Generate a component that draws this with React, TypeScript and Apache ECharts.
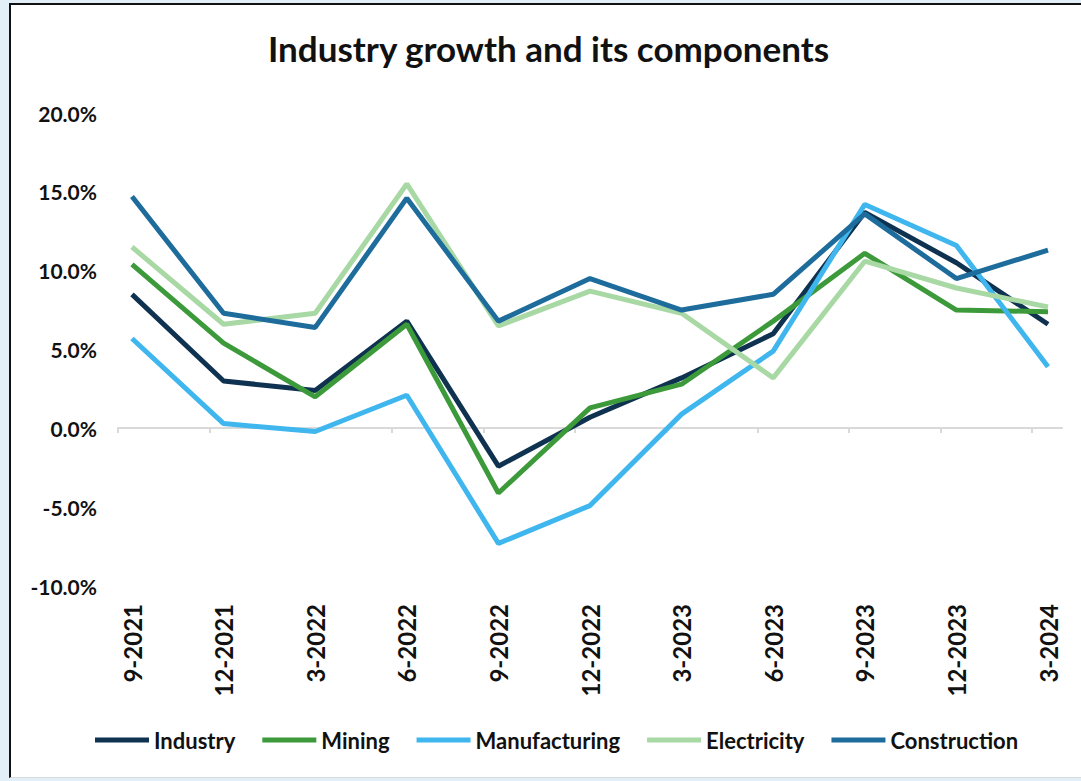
import React, { useEffect, useRef } from "react";
import * as echarts from "echarts";

const categories = ["9-2021", "12-2021", "3-2022", "6-2022", "9-2022", "12-2022", "3-2023", "6-2023", "9-2023", "12-2023", "3-2024"];
const industry = [8.5, 3.0, 2.4, 6.8, -2.4, 0.7, 3.2, 6.0, 13.7, 10.5, 6.6];
const mining = [10.4, 5.4, 2.0, 6.6, -4.1, 1.3, 2.8, 6.8, 11.1, 7.5, 7.4];
const manufacturing = [5.7, 0.3, -0.2, 2.1, -7.3, -4.9, 0.9, 4.9, 14.2, 11.6, 3.9];
const electricity = [11.5, 6.6, 7.3, 15.5, 6.5, 8.7, 7.3, 3.2, 10.6, 8.9, 7.7];
const construction = [14.7, 7.3, 6.4, 14.6, 6.8, 9.5, 7.5, 8.5, 13.6, 9.5, 11.3];
const seriesNames = ["Industry", "Mining", "Manufacturing", "Electricity", "Construction"];
const seriesValues = [industry, mining, manufacturing, electricity, construction];
const seriesColors = ["#0f3250", "#3c9a3a", "#3fb6ee", "#a8d8a4", "#1d6c9c"];
const zeroAxisTicks = [0, 1, 2, 3, 4, 5, 6, 7, 8, 9, 10];

const FONT = "Lato, 'Noto Sans', sans-serif";

export default function App() {
  const ref = useRef<HTMLDivElement>(null);
  useEffect(() => {
    if (!ref.current) return;
    const chart = echarts.init(ref.current, null, { renderer: "svg" });
    chart.setOption({
      animation: false,
      backgroundColor: "transparent",
      title: {
        text: "Industry growth and its components",
        left: 268,
        top: 30,
        padding: 0,
        textStyle: { fontFamily: FONT, fontWeight: "bold", fontSize: 35, color: "#111" },
      },
      legend: {
        left: 90,
        top: 724,
        itemWidth: 54,
        itemHeight: 5,
        itemGap: 27,
        icon: "rect",
        data: seriesNames,
        textStyle: { fontFamily: FONT, fontWeight: "bold", fontSize: 22, color: "#111" },
      },
      grid: [
        { left: 132, right: 33, top: 113, bottom: 195 },
        { left: 118, right: 19, top: 113, bottom: 353 },
      ],
      xAxis: [
        {
          type: "category",
          gridIndex: 0,
          data: categories,
          boundaryGap: false,
          position: "bottom",
          axisLine: { show: false, onZero: false },
          axisTick: { show: false },
          splitLine: { show: false },
          axisLabel: {
            rotate: 90,
            margin: 18,
            interval: 0,
            fontFamily: FONT,
            fontWeight: "bold",
            fontSize: 24,
            color: "#111",
          },
        },
        {
          type: "value",
          gridIndex: 1,
          min: 0,
          max: 10.33,
          interval: 1,
          position: "bottom",
          axisLine: { show: true, onZero: false, lineStyle: { color: "#d9d9d9", width: 2 } },
          axisTick: { show: true, length: 5, customValues: zeroAxisTicks, lineStyle: { color: "#d9d9d9", width: 2 } },
          axisLabel: { show: false },
          splitLine: { show: false },
        },
      ],
      yAxis: [
        {
          type: "value",
          gridIndex: 0,
          min: -10,
          max: 20,
          interval: 5,
          axisLine: { show: false },
          axisTick: { show: false },
          splitLine: { show: false },
          axisLabel: {
            margin: 35,
            fontFamily: FONT,
            fontWeight: "bold",
            fontSize: 21,
            color: "#111",
            formatter: (v: number) => v.toFixed(1) + "%",
          },
        },
        {
          type: "value",
          gridIndex: 1,
          min: 0,
          max: 1,
          show: false,
        },
      ],
      series: seriesNames.map((name, i) => ({
        name,
        type: "line",
        xAxisIndex: 0,
        yAxisIndex: 0,
        data: seriesValues[i],
        symbol: "none",
        color: seriesColors[i],
        lineStyle: { width: 5, color: seriesColors[i] },
        z: 2 + i,
      })),
    });
    return () => chart.dispose();
  }, []);

  return (
    <div style={{ position: "absolute", left: 0, top: 0, width: 1081, height: 781, background: "#e3eff8", overflow: "hidden" }}>
      <div
        style={{
          position: "absolute",
          left: 9,
          top: 3,
          right: 0,
          bottom: 3,
          background: "#ffffff",
          borderLeft: "2px solid #111",
          borderTop: "2px solid #111",
          borderBottom: "1px solid #d5dadd",
        }}
      />
      <div ref={ref} style={{ position: "absolute", left: 0, top: 0, width: 1081, height: 781 }} />
    </div>
  );
}
